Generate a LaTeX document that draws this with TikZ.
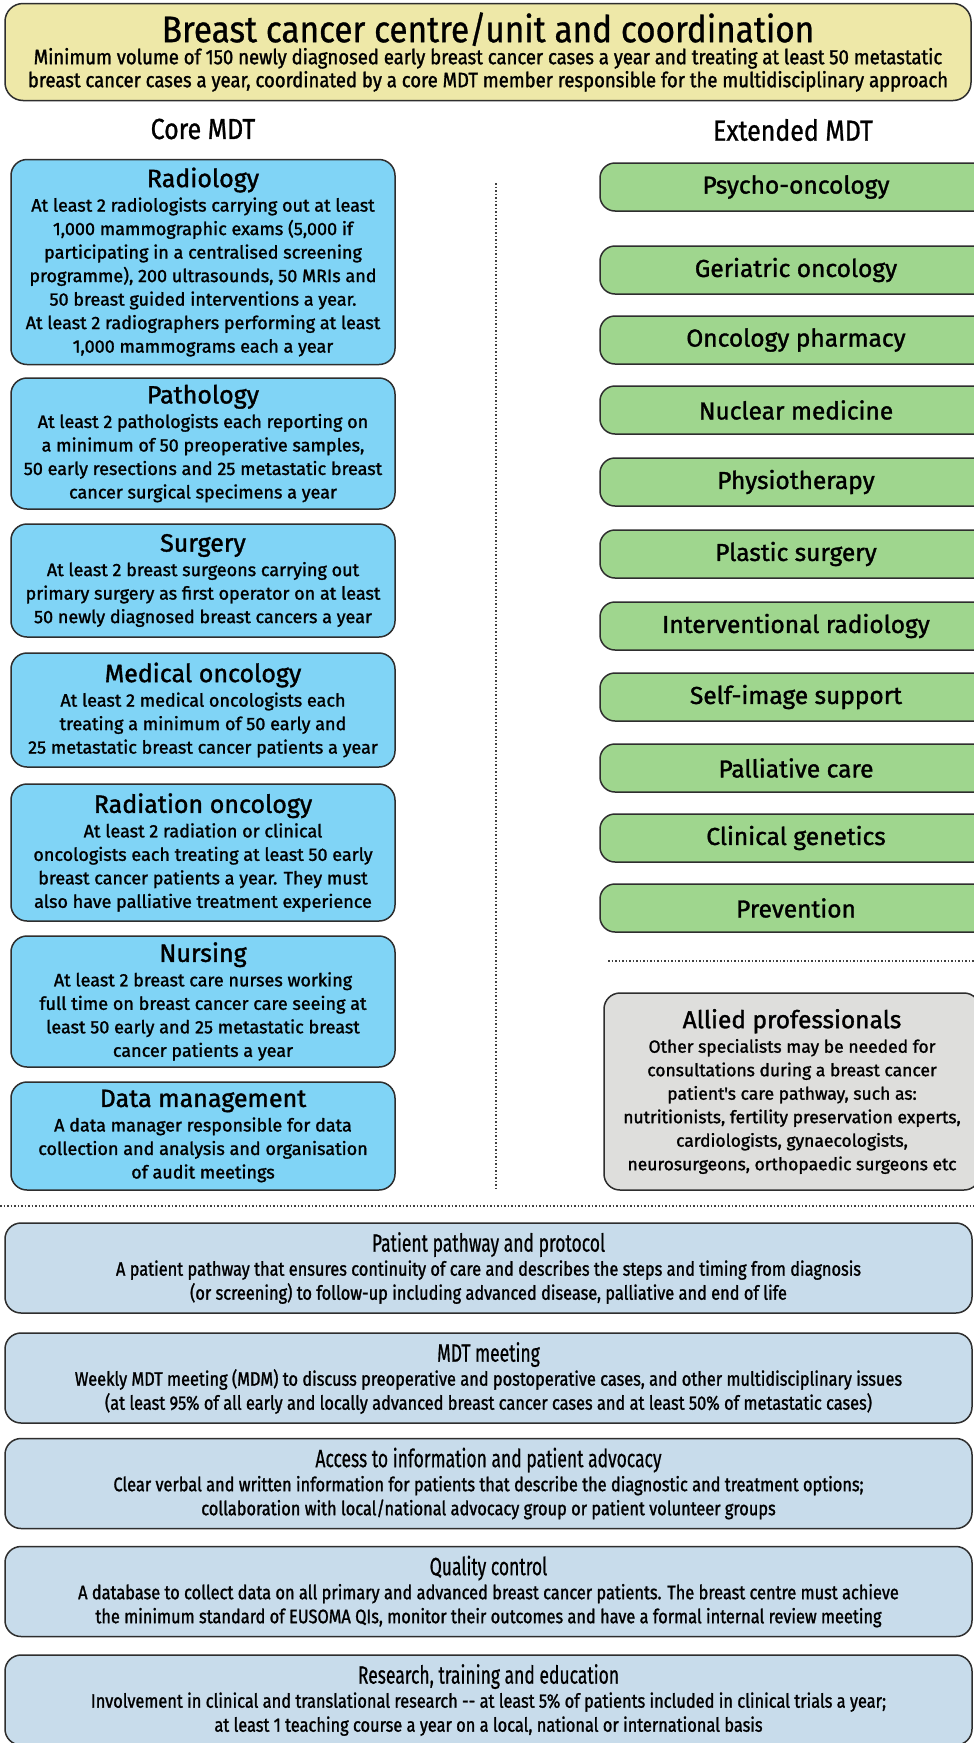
\documentclass[tikz,border=0pt]{standalone}
\usepackage{fontspec}
\setmainfont{Fira Sans}
\newfontfamily\sbf{Fira Sans}[FakeBold=1.4]
\newfontfamily\titf{Fira Sans}[FakeStretch=0.90, FakeBold=0.8]
\newfontfamily\subf{Fira Sans}[FakeStretch=0.89, FakeBold=1.4]
\newfontfamily\bttf{Fira Sans}[FakeStretch=0.70, FakeBold=0.6]
\newfontfamily\bbf{Fira Sans}[FakeStretch=0.84, FakeBold=1.3]
\newfontfamily\hdf{Fira Sans}[FakeStretch=0.86, FakeBold=0.9]
\definecolor{ylw}{HTML}{EEE8A8}
\definecolor{coreblue}{HTML}{80D4F6}
\definecolor{grn}{HTML}{9FD68E}
\definecolor{gry}{HTML}{DEDEDC}
\definecolor{pale}{HTML}{C8DCEB}
\definecolor{bord}{HTML}{2E2E2E}
\tikzset{
  box/.style={draw=bord, line width=1.5pt, inner sep=0pt, align=center},
  topbox/.style={box, fill=ylw, rounded corners=18pt, minimum width=966pt, minimum height=97pt},
  corebox/.style={box, fill=coreblue, rounded corners=16pt, minimum width=384pt},
  extbox/.style={box, fill=grn, rounded corners=15pt, minimum width=392pt, minimum height=48pt,
     font=\sbf\fontsize{24.5}{26}\selectfont},
  allbox/.style={box, fill=gry, rounded corners=16pt, minimum width=376pt, minimum height=197pt},
  botbox/.style={box, fill=pale, rounded corners=16pt, minimum width=967pt, minimum height=90pt},
  corebody/.style={font=\sbf\fontsize{18}{23.5}\selectfont},
  sep/.style={draw=black!75, line width=1.1pt, dash pattern=on 1.5pt off 2pt},
  head/.style={font=\hdf\fontsize{29}{30}\selectfont}
}
\newcommand{\ct}[1]{{\fontsize{25}{26}\selectfont #1}\\[1pt]}
\newcommand{\bt}[1]{{\bttf\fontsize{25}{26}\selectfont #1}\\[0pt]}
\begin{document}
\begin{tikzpicture}[x=1pt,y=-1pt]
\useasboundingbox (0,0) rectangle (974,1743);
\clip (0,0) rectangle (974,1743);
\fill[white] (0,0) rectangle (974,1743);

% top box
\node[topbox, font=\subf\fontsize{20.8}{23}\selectfont] (top) at (488,52) {{\titf\fontsize{37}{30}\selectfont Breast cancer centre/unit and coordination}\\[-1pt]
 Minimum volume of 150 newly diagnosed early breast cancer cases a year and treating at least 50 metastatic\\
 breast cancer cases a year, coordinated by a core MDT member responsible for the multidisciplinary approach};

\node[head] (core) at (203,129) {Core MDT};
\node[head] (ext) at (793,130) {Extended MDT};

% core MDT boxes
\node[corebox, minimum height=205pt, corebody] (rad) at (203,262) {\ct{Radiology}
At least 2 radiologists carrying out at least\\
1,000 mammographic exams (5,000 if\\
participating in a centralised screening\\
programme), 200 ultrasounds, 50 MRIs and\\
50 breast guided interventions a year.\\
At least 2 radiographers performing at least\\
1,000 mammograms each a year};

\node[corebox, minimum height=131pt, corebody] (path) at (203,443.5) {\ct{Pathology}
At least 2 pathologists each reporting on\\
a minimum of 50 preoperative samples,\\
50 early resections and 25 metastatic breast\\
cancer surgical specimens a year};

\node[corebox, minimum height=113pt, corebody] (surg) at (203,580.5) {\ct{Surgery}
At least 2 breast surgeons carrying out\\
primary surgery as first operator on at least\\
50 newly diagnosed breast cancers a year};

\node[corebox, minimum height=114pt, corebody] (medonc) at (203,710) {\ct{Medical oncology}
At least 2 medical oncologists each\\
treating a minimum of 50 early and\\
25 metastatic breast cancer patients a year};

\node[corebox, minimum height=137pt, corebody] (radonc) at (203,852.5) {\ct{Radiation oncology}
At least 2 radiation or clinical\\
oncologists each treating at least 50 early\\
breast cancer patients a year. They must\\
also have palliative treatment experience};

\node[corebox, minimum height=131pt, corebody] (nurs) at (203,1001.5) {\ct{Nursing}
At least 2 breast care nurses working\\
full time on breast cancer care seeing at\\
least 50 early and 25 metastatic breast\\
cancer patients a year};

\node[corebox, minimum height=108pt, corebody] (data) at (203,1136) {\ct{Data management}
A data manager responsible for data\\
collection and analysis and organisation\\
of audit meetings};

% vertical separator
\coordinate (vtop) at (496,183);
\coordinate (vbot) at (496,1190);
\draw[sep] (vtop) -- (vbot);

% extended MDT boxes
\node[extbox] (e1) at (796,187) {Psycho-oncology};
\node[extbox] (e2) at (796,270) {Geriatric oncology};
\node[extbox] (e3) at (796,340) {Oncology pharmacy};
\node[extbox] (e4) at (796,410) {Nuclear medicine};
\node[extbox] (e5) at (796,482) {Physiotherapy};
\node[extbox] (e6) at (796,554) {Plastic surgery};
\node[extbox] (e7) at (796,626) {Interventional radiology};
\node[extbox] (e8) at (796,697) {Self-image support};
\node[extbox] (e9) at (796,768) {Palliative care};
\node[extbox] (e10) at (796,838) {Clinical genetics};
\node[extbox] (e11) at (796,908) {Prevention};

\coordinate (hr1a) at (608,961);
\coordinate (hr1b) at (974,961);
\draw[sep] (hr1a) -- (hr1b);

\node[allbox, font=\sbf\fontsize{17.5}{23.5}\selectfont] (allied) at (792,1091.5) {{\fontsize{24.5}{26}\selectfont Allied professionals}\\[1pt]
Other specialists may be needed for\\
consultations during a breast cancer\\
patient's care pathway, such as:\\
nutritionists, fertility preservation experts,\\
cardiologists, gynaecologists,\\
neurosurgeons, orthopaedic surgeons etc};

\coordinate (hr2a) at (0,1206);
\coordinate (hr2b) at (974,1206);
\draw[sep] (hr2a) -- (hr2b);

% bottom boxes
\tikzset{bb/.style={botbox, font=\bbf\fontsize{19.5}{24}\selectfont}}
\node[bb] (pp) at (488.5,1268) {\bt{Patient pathway and protocol}
A patient pathway that ensures continuity of care and describes the steps and timing from diagnosis\\
(or screening) to follow-up including advanced disease, palliative and end of life};

\node[bb] (mdt) at (488.5,1378) {\bt{MDT meeting}
Weekly MDT meeting (MDM) to discuss preoperative and postoperative cases, and other multidisciplinary issues\\
(at least 95\% of all early and locally advanced breast cancer cases and at least 50\% of metastatic cases)};

\node[bb] (acc) at (488.5,1483.5) {\bt{Access to information and patient advocacy}
Clear verbal and written information for patients that describe the diagnostic and treatment options;\\
collaboration with local/national advocacy group or patient volunteer groups};

\node[bb] (qc) at (488.5,1591.5) {\bt{Quality control}
A database to collect data on all primary and advanced breast cancer patients. The breast centre must achieve\\
the minimum standard of EUSOMA QIs, monitor their outcomes and have a formal internal review meeting};

\node[bb] (res) at (488.5,1700) {\bt{Research, training and education}
Involvement in clinical and translational research -- at least 5\% of patients included in clinical trials a year;\\
at least 1 teaching course a year on a local, national or international basis};
\end{tikzpicture}
\end{document}
